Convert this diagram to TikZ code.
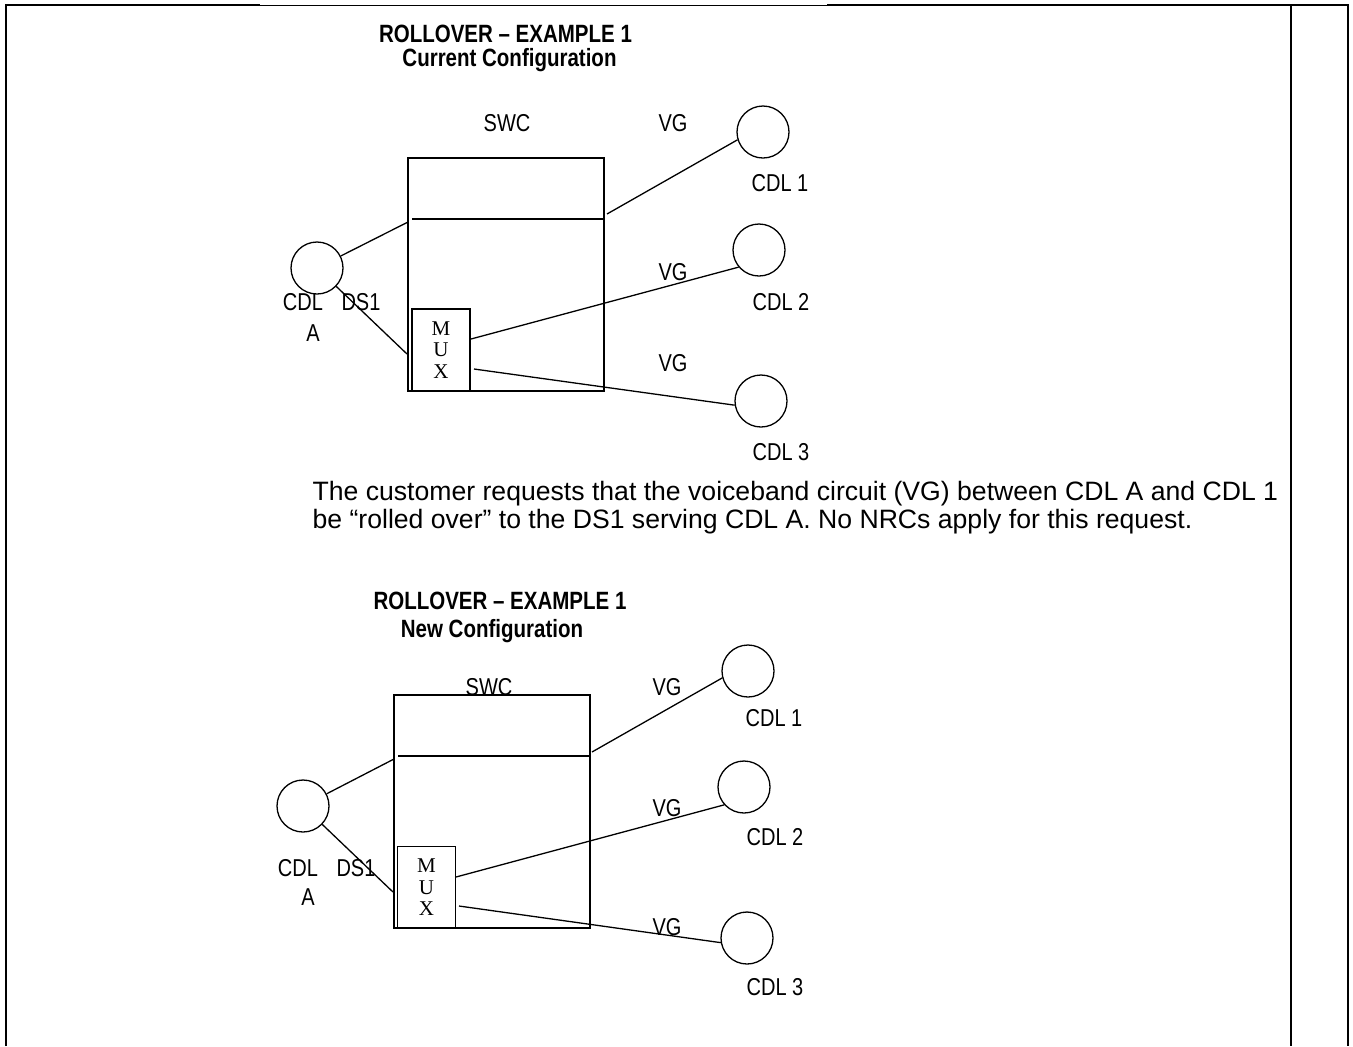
\documentclass[tikz,border=0pt]{standalone}
\usepackage{fontspec}
\setmainfont{Liberation Sans}
\newfontfamily\narrowfont[FakeStretch=0.82]{Liberation Sans}
\newfontfamily\muxfont{Liberation Serif}
\usepackage{tikz}
\usetikzlibrary{positioning}

\begin{document}
\begin{tikzpicture}[x=0.5pt, y=-0.5pt, line width=0.65pt,
  cdl/.style={draw, circle, inner sep=0pt, minimum size=26pt},
  swcbox/.style={draw, rectangle, inner sep=0pt, minimum width=98pt, minimum height=116.5pt},
  muxbox/.style={draw, rectangle, inner sep=0pt, minimum width=29pt, minimum height=41pt, align=center, font=\muxfont\fontsize{10.5}{10.75}\selectfont},
  lbl/.style={inner sep=0pt, font=\narrowfont\fontsize{12.2}{14}\selectfont},
  ttl/.style={inner sep=0pt, anchor=base, font=\narrowfont\bfseries\fontsize{12.5}{14}\selectfont},
  body/.style={inner sep=0pt, anchor=base west, font=\fontsize{13.3}{16}\selectfont}]
  \useasboundingbox (0,0) rectangle (1353,1046);
  \draw[line width=1.2pt] (6,1046) -- (6,5) -- (260,5);
  \draw[line width=0.5pt] (260,5) -- (827,5);
  \draw[line width=1.2pt] (827,5) -- (1348,5) -- (1348,1046);
  \draw[line width=1.2pt] (1291,5) -- (1291,1046);

  \node[ttl] (ttlCur) at (505.5,42) {ROLLOVER – EXAMPLE 1};
  \node[ttl] (subCur) at (509.5,66) {Current Configuration};
  \node[swcbox] (swc) at (506,274.5) {};
  \node[muxbox] (mux) at (441,350) {M\\U\\X};
  \draw (412,219) -- (604,219);
  \node[cdl] (cdlA) at (317,268) {};
  \node[cdl] (cdl1) at (763,132) {};
  \node[cdl] (cdl2) at (759,250) {};
  \node[cdl] (cdl3) at (761,401) {};
  \coordinate (inA) at (408,222);
  \coordinate (dsA) at (407,354);
  \coordinate (vg1) at (607,214);
  \coordinate (vg2) at (471,339);
  \coordinate (vg3) at (474,369);
  \draw (cdlA) -- (inA);
  \draw (cdlA) -- (dsA);
  \draw (vg1) -- (cdl1.197);
  \draw (vg2) -- (cdl2.220);
  \draw (vg3) -- (cdl3.189);
  \node[lbl] (swcLbl) at (507,123) {SWC};
  \node[lbl] (vgLbl1) at (673,123) {VG};
  \node[lbl] (vgLbl2) at (673,272) {VG};
  \node[lbl] (vgLbl3) at (673,363) {VG};
  \node[lbl] (cdlLbl1) at (780,183) {CDL 1};
  \node[lbl] (cdlLbl2) at (781,302) {CDL 2};
  \node[lbl] (cdlLbl3) at (781,452) {CDL 3};
  \node[lbl] (cdlLblA) at (303,302) {CDL};
  \node[lbl] (aLbl) at (313,333) {A};
  \node[lbl] (dsLbl) at (361,302) {DS1};

  \node[body] (par1) at (312,500) {The customer requests that the voiceband circuit (VG) between CDL A and CDL 1};
  \node[body] (par2) at (312,528) {be “rolled over” to the DS1 serving CDL A. No NRCs apply for this request.};

  \node[ttl] (ttlNew) at (500,609) {ROLLOVER – EXAMPLE 1};
  \node[ttl] (subNew) at (492,637) {New Configuration};
  \node[lbl] (swcLblN) at (489,687) {SWC};
  \node[swcbox] (swcN) at (492,811.5) {};
  \node[muxbox] (muxN) at (426.5,887.5) {M\\U\\X};
  \draw (398,756) -- (590,756);
  \node[cdl] (cdlAn) at (303,806) {};
  \node[cdl] (cdl1n) at (748,671) {};
  \node[cdl] (cdl2n) at (744,787) {};
  \node[cdl] (cdl3n) at (747,938) {};
  \coordinate (inAn) at (394,759);
  \coordinate (dsAn) at (393,892);
  \coordinate (vg1n) at (592,752);
  \coordinate (vg2n) at (456,877);
  \coordinate (vg3n) at (459,906);
  \draw (cdlAn) -- (inAn);
  \draw (cdlAn) -- (dsAn);
  \draw (vg1n) -- (cdl1n.195);
  \draw (vg2n) -- (cdl2n.222);
  \draw (vg3n) -- (cdl3n.190);
  \node[lbl] (vgLbl1n) at (667,687) {VG};
  \node[lbl] (vgLbl2n) at (667,808) {VG};
  \node[lbl] (vgLbl3n) at (667,927) {VG};
  \node[lbl] (cdlLbl1n) at (774,718) {CDL 1};
  \node[lbl] (cdlLbl2n) at (775,837) {CDL 2};
  \node[lbl] (cdlLbl3n) at (775,987) {CDL 3};
  \node[lbl] (cdlLblAn) at (298,868) {CDL};
  \node[lbl] (aLbln) at (308,897) {A};
  \node[lbl] (dsLbln) at (356,868) {DS1};
\end{tikzpicture}
\end{document}
